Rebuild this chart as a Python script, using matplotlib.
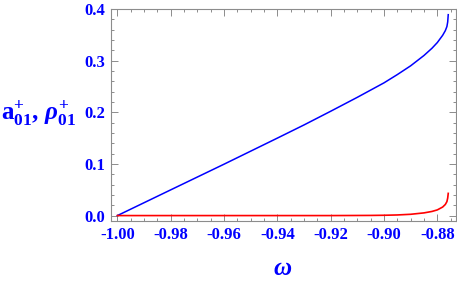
import matplotlib
matplotlib.use("Agg")
import matplotlib.pyplot as plt
from matplotlib.ticker import MultipleLocator, FormatStrFormatter

# Data
omega_a = [-1.0, -0.98, -0.96, -0.94, -0.93, -0.92, -0.91, -0.90, -0.895,
           -0.89, -0.885, -0.882, -0.880, -0.878, -0.877, -0.8764, -0.8761,
           -0.8760, -0.8759]
a01 = [0.0, 0.0498, 0.0995, 0.150, 0.1755, 0.202, 0.229, 0.257, 0.273,
       0.290, 0.310, 0.324, 0.335, 0.349, 0.358, 0.366, 0.375, 0.382, 0.389]

omega_r = [-1.0, -0.92, -0.905, -0.90, -0.895, -0.89, -0.885, -0.882,
           -0.880, -0.878, -0.877, -0.8764, -0.8761, -0.8759]
rho01 = [0.0, 0.0, 0.0003, 0.0006, 0.0012, 0.0025, 0.0052, 0.0080,
         0.0110, 0.0165, 0.0215, 0.0270, 0.0340, 0.0430]

xticks = [-1.00, -0.98, -0.96, -0.94, -0.92, -0.90, -0.88]
yticks = [0.0, 0.1, 0.2, 0.3, 0.4]

plt.rcParams['mathtext.fontset'] = 'custom'
plt.rcParams['mathtext.rm'] = 'Liberation Serif:bold'
plt.rcParams['mathtext.it'] = 'Liberation Serif:bold:italic'
plt.rcParams['mathtext.bf'] = 'Liberation Serif:bold'

fig = plt.figure(figsize=(4.57, 2.83), dpi=100)
ax = fig.add_axes([111/457, 62/283, (455.7-111)/457, (221-9)/283])

ax.plot(omega_a, a01, color='#0000ff', lw=1.1)
ax.plot(omega_r, rho01, color='#ff0000', lw=1.2)

ax.set_xlim(-1.0024, -0.8731)
ax.set_ylim(-0.0105, 0.4)

ax.set_xticks(xticks)
ax.set_yticks(yticks)
ax.xaxis.set_minor_locator(MultipleLocator(0.005))
ax.yaxis.set_minor_locator(MultipleLocator(0.02))
ax.xaxis.set_major_formatter(FormatStrFormatter('%.2f'))
ax.yaxis.set_major_formatter(FormatStrFormatter('%.1f'))

frame = '#8c8c8c'
for s in ax.spines.values():
    s.set_color(frame)
    s.set_linewidth(0.8)
ax.tick_params(which='both', direction='in', top=True, right=True,
               color=frame, labelcolor='#0000ff', width=0.7)
ax.tick_params(which='major', length=5, pad=4)
ax.tick_params(which='minor', length=2.5)
for lab in ax.get_xticklabels() + ax.get_yticklabels():
    lab.set_fontfamily('Liberation Serif')
    lab.set_fontweight('bold')
    lab.set_fontsize(12)

fig.text(283/457, 15/283, r'$\omega$', color='#0000ff', fontsize=18,
         ha='center', va='center')
fig.text(0.002, (283-113)/283,
         r'$\mathrm{a}_{\mathrm{01}}^{+}\mathrm{,}\ \rho_{\mathrm{01}}^{+}$',
         color='#0000ff', fontsize=18, ha='left', va='center')

fig.savefig('out.png', dpi=100)
